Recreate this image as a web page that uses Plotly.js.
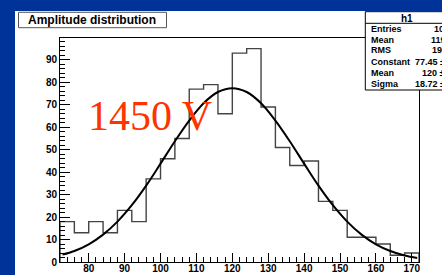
<!DOCTYPE html>
<html>
<head>
<meta charset="utf-8">
<script src="https://cdn.plot.ly/plotly-3.0.1.min.js"></script>
<style>html,body{margin:0;padding:0;background:#003399;}#chart{width:442px;height:275px;}</style>
</head>
<body>
<div id="chart"></div>
<script>
// Histogram bin edges (bin width 4) and counts per bin
const binEdges = [72,76,80,84,88,92,96,100,104,108,112,116,120,124,128,132,136,140,144,148,152,156,160,164,168,172];
const binCounts = [18,13,18,13,23,18,37,46,55,77,79,66,93,95,69,51,43,45,27,23,11,11,8,3,4];

// Gaussian fit curve
const fitX = [72.7,76,80,84,88,92,96,100,104,108,112,116,120,124,128,132,136,140,144,148,152,156,160,164,168,171.5];
const fitY = [3.3,4.9,7.9,12.2,18,25.3,34,43.8,53.8,63,70.7,75.7,77.4,75.7,70.7,63,53.8,43.8,34,25.3,18,12.2,7.9,4.9,2.9,1.8];

// Stats box
const statsTitle = 'h1';
const statsLabels = ['Entries','Mean','RMS','Constant','Mean','Sigma'];
const statsValues = ['1000','119.6','19.68','77.45 \u00b1 3.07','120 \u00b1 0.6','18.72 \u00b1 0.49'];

const chartTitle = 'Amplitude distribution';
const voltageLabel = '1450 V';

// build step outline of the histogram
const stepX = [binEdges[0]];
const stepY = [0];
for (let i = 0; i < binCounts.length; i++) { stepX.push(binEdges[i]); stepY.push(binCounts[i]); }
stepX.push(binEdges[binEdges.length-1]); stepY.push(binCounts[binCounts.length-1]);
stepX.push(binEdges[binEdges.length-1]); stepY.push(0);

// pixel -> paper helpers (plot area 60..419 x 38..262)
const L = 60, R = 419, T = 38, B = 262;
const px = p => (p - L) / (R - L);
const py = p => (B - p) / (B - T);

const FONT = 'Liberation Sans, Arial, Helvetica, sans-serif';
const NARROW = 'Liberation Sans Narrow, Arial Narrow, Liberation Sans, sans-serif';

const traces = [
  {x: stepX, y: stepY, type: 'scatter', mode: 'lines', line: {shape: 'hv', color: '#444', width: 1.4}, hoverinfo: 'skip'},
  {x: fitX, y: fitY, type: 'scatter', mode: 'lines', line: {shape: 'spline', color: '#000', width: 2}, hoverinfo: 'skip'}
];

const statsRowY = [29, 39.5, 49.5, 62, 73, 84];
const statsValX = [432, 428.7, 430.3, 413, 420, 413];

const annotations = [
  {text: chartTitle, xref: 'paper', yref: 'paper', x: px(92), y: py(20), xanchor: 'center', yanchor: 'middle', showarrow: false,
   font: {family: FONT, size: 12, color: '#000', weight: 'bold'}},
  {text: voltageLabel, xref: 'x', yref: 'paper', x: 97.1, y: py(115.8), xanchor: 'center', yanchor: 'middle', showarrow: false,
   font: {family: 'Liberation Serif, Times New Roman, serif', size: 42, color: '#ff3300'}},
  {text: statsTitle, xref: 'paper', yref: 'paper', x: px(407), y: py(18), xanchor: 'center', yanchor: 'middle', showarrow: false,
   font: {family: FONT, size: 10, color: '#000', weight: 'bold'}}
];
statsLabels.forEach((lab, i) => {
  annotations.push({text: lab, xref: 'paper', yref: 'paper', x: px(368.5), y: py(statsRowY[i]), xanchor: 'left', yanchor: 'middle', showarrow: false,
    font: {family: NARROW, size: 9, color: '#000', weight: 'bold'}});
  annotations.push({text: statsValues[i], xref: 'paper', yref: 'paper', x: px(statsValX[i]), y: py(statsRowY[i]), xanchor: 'left', yanchor: 'middle', showarrow: false,
    font: {family: NARROW, size: 9, color: '#000', weight: 'bold'}});
});

const shapes = [
  // white pad
  {type: 'rect', xref: 'paper', yref: 'paper', x0: px(15), x1: px(460), y0: py(290), y1: py(11), fillcolor: '#fff', line: {width: 0}, layer: 'below'},
  // title box
  {type: 'rect', xref: 'paper', yref: 'paper', x0: px(18.5), x1: px(166.5), y0: py(27.7), y1: py(12.3), fillcolor: '#fff', line: {color: '#555', width: 1}, layer: 'above'},
  // stats box
  {type: 'rect', xref: 'paper', yref: 'paper', x0: px(365.3), x1: px(470), y0: py(90), y1: py(11.7), fillcolor: '#fff', line: {color: '#000', width: 1}, layer: 'above'},
  {type: 'line', xref: 'paper', yref: 'paper', x0: px(365.3), x1: px(470), y0: py(23.3), y1: py(23.3), line: {color: '#000', width: 1}, layer: 'above'}
];

const axisCommon = {
  showgrid: false, zeroline: false, showline: true, linecolor: '#000', linewidth: 1, mirror: true,
  ticks: 'inside', tickcolor: '#000', tickwidth: 1,
  tickfont: {family: FONT, size: 10, color: '#000', weight: 'bold'},
  fixedrange: true
};

const layout = {
  width: 442, height: 275,
  margin: {l: L, r: 442 - R, t: T, b: 275 - B, pad: 0},
  paper_bgcolor: '#003399', plot_bgcolor: '#fff',
  showlegend: false,
  xaxis: Object.assign({}, axisCommon, {range: [72, 172], tick0: 0, dtick: 10, ticklen: 9, ticklabelstandoff: -3,
    minor: {dtick: 2, ticks: 'inside', ticklen: 5, tickcolor: '#000', showgrid: false}}),
  yaxis: Object.assign({}, axisCommon, {range: [0, 99.75], tick0: 0, dtick: 10, ticklen: 10,
    minor: {dtick: 2, ticks: 'inside', ticklen: 5, tickcolor: '#000', showgrid: false}}),
  annotations: annotations,
  shapes: shapes
};

Plotly.newPlot('chart', traces, layout, {staticPlot: true, displayModeBar: false});
</script>
</body>
</html>
